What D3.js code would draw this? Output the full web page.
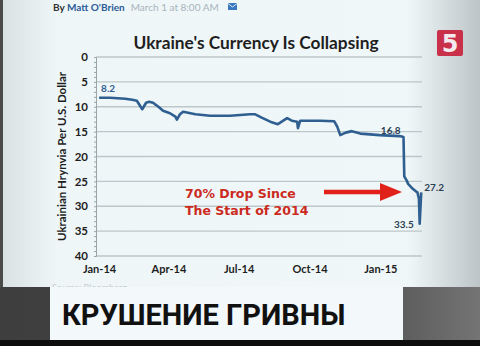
<!DOCTYPE html>
<html>
<head>
<meta charset="utf-8">
<script src="https://cdn.jsdelivr.net/npm/d3@7"></script>
<style>
  html, body { margin: 0; padding: 0; background: #000; }
  svg { display: block; }
</style>
</head>
<body>
<div id="chart"></div>
<script>
// hryvnia per US dollar
const dates = [
  '2014-01-01', '2014-01-15', '2014-02-04', '2014-02-13', '2014-02-19', '2014-02-26',
  '2014-03-03', '2014-03-07', '2014-03-12', '2014-03-19', '2014-03-25', '2014-04-03',
  '2014-04-10', '2014-04-12', '2014-04-16', '2014-04-20', '2014-05-06', '2014-05-25',
  '2014-06-20', '2014-07-16', '2014-07-22', '2014-07-31', '2014-08-11', '2014-08-21',
  '2014-08-28', '2014-09-02', '2014-09-08', '2014-09-15', '2014-09-16', '2014-09-19',
  '2014-09-25', '2014-10-15', '2014-11-02', '2014-11-06', '2014-11-10', '2014-11-17',
  '2014-11-25', '2014-12-06', '2014-12-31', '2015-01-26', '2015-01-31', '2015-02-01',
  '2015-02-04', '2015-02-06', '2015-02-09', '2015-02-12', '2015-02-16', '2015-02-18',
  '2015-02-20', '2015-02-21', '2015-02-23'
];
const rates = [
  8.2, 8.2, 8.4, 8.6, 8.8, 10.5,
  9.2, 9.0, 9.2, 10.0, 10.8, 11.3,
  12.0, 12.6, 11.5, 11.0, 11.5, 11.8,
  11.8, 11.5, 11.5, 12.2, 13.0, 13.5,
  12.8, 12.3, 12.8, 13.0, 14.3, 12.8,
  12.8, 12.8, 12.9, 14.0, 15.7, 15.2,
  14.9, 15.4, 15.7, 15.9, 16.1, 24.0,
  24.8, 25.5, 26.0, 26.5, 27.0, 27.2,
  28.5, 33.5, 27.2
];
const yTicks = [0, 5, 10, 15, 20, 25, 30, 35, 40];
const callouts = [
  { date: '2014-01-01', value: 8.2, label: '8.2' },
  { date: '2015-01-26', value: 16.8, label: '16.8' },
  { date: '2015-02-23', value: 27.2, label: '27.2' },
  { date: '2015-02-21', value: 33.5, label: '33.5' }
];

const parse = d3.timeParse('%Y-%m-%d');
const data = dates.map((d, i) => ({ date: parse(d), value: rates[i] }));

const width = 480, height = 346;

const svg = d3.select('#chart')
  .append('svg')
  .attr('width', width)
  .attr('height', height);

const defs = svg.append('defs');
const bg = defs.append('linearGradient').attr('id', 'bg');
bg.append('stop').attr('offset', '0%').attr('stop-color', '#d9e0e2');
bg.append('stop').attr('offset', '12%').attr('stop-color', '#eef6f7');
bg.append('stop').attr('offset', '85%').attr('stop-color', '#eff7f8');
bg.append('stop').attr('offset', '100%').attr('stop-color', '#bcc4c7');

const band = defs.append('linearGradient').attr('id', 'band');
band.append('stop').attr('offset', '0%').attr('stop-color', '#3e3e3e');
band.append('stop').attr('offset', '70%').attr('stop-color', '#4a4a4a');
band.append('stop').attr('offset', '100%').attr('stop-color', '#747474');

svg.append('rect').attr('width', width).attr('height', height).attr('fill', 'url(#bg)');
svg.append('rect').attr('width', 3).attr('height', height).attr('fill', '#4a4a4a');

// byline
const by = svg.append('text')
  .attr('x', 53).attr('y', 11)
  .attr('font-family', 'Lato, sans-serif')
  .attr('font-size', 10)
  .attr('font-weight', 700);
by.append('tspan').attr('fill', '#333').text('By ');
by.append('tspan').attr('fill', '#2c5c9a').text("Matt O'Brien");
by.append('tspan').attr('fill', '#a9b4bc').attr('font-weight', 400).attr('dx', 6).text('March 1 at 8:00 AM');
svg.append('rect').attr('x', 228).attr('y', 3).attr('width', 9).attr('height', 7).attr('fill', '#3a78c0');
svg.append('path').attr('d', 'M228,3.5L232.5,7L237,3.5').attr('stroke', '#dde8f2').attr('fill', 'none').attr('stroke-width', 1);

// channel logo
svg.append('rect').attr('x', 437).attr('y', 30).attr('width', 26).attr('height', 26).attr('rx', 2).attr('fill', '#c9304a');
svg.append('text').attr('x', 450).attr('y', 52).attr('text-anchor', 'middle')
  .attr('font-family', 'DejaVu Sans, sans-serif').attr('font-weight', 700).attr('font-size', 24)
  .attr('fill', '#f4e9ec').text('5');

svg.append('text')
  .attr('x', 256).attr('y', 49)
  .attr('text-anchor', 'middle')
  .attr('font-family', 'Lato, sans-serif')
  .attr('font-size', 17.3)
  .attr('font-weight', 700)
  .attr('fill', '#1e1e1e')
  .text("Ukraine's Currency Is Collapsing");

const x = d3.scaleTime()
  .domain([parse('2013-12-28'), parse('2015-02-24')])
  .range([96, 422]);

const y = d3.scaleLinear()
  .domain([0, 40])
  .range([57, 256]);

// gridlines
svg.append('g')
  .selectAll('line')
  .data(yTicks)
  .join('line')
  .attr('x1', x.range()[0])
  .attr('x2', x.range()[1])
  .attr('y1', d => y(d))
  .attr('y2', d => y(d))
  .attr('stroke', '#bcc7c9')
  .attr('stroke-width', 1.3);

// y axis with minor ticks
const yAxis = svg.append('g')
  .attr('transform', `translate(${x.range()[0]},0)`)
  .call(d3.axisLeft(y).ticks(40).tickSize(2).tickFormat(''));
yAxis.selectAll('path, line').attr('stroke', '#9aa5a8');

svg.append('g')
  .selectAll('text')
  .data(yTicks)
  .join('text')
  .attr('x', 88)
  .attr('y', d => y(d))
  .attr('dy', '0.36em')
  .attr('text-anchor', 'end')
  .attr('font-family', 'Lato, sans-serif')
  .attr('font-size', 11.5)
  .attr('font-weight', 700)
  .attr('fill', '#1e1e1e')
  .text(d => d);

// x axis labels
const xAxis = svg.append('g')
  .attr('transform', 'translate(0,262)')
  .call(d3.axisBottom(x)
    .ticks(d3.timeMonth.every(3))
    .tickSize(0)
    .tickFormat(d3.timeFormat('%b-%y')));
xAxis.select('.domain').remove();
xAxis.selectAll('text')
  .attr('font-family', 'Lato, sans-serif')
  .attr('font-size', 11)
  .attr('font-weight', 700)
  .attr('fill', '#1e1e1e');

svg.append('text')
  .attr('transform', `translate(66,${(y(0) + y(40)) / 2}) rotate(-90)`)
  .attr('text-anchor', 'middle')
  .attr('font-family', 'Lato, sans-serif')
  .attr('font-size', 11.5)
  .attr('font-weight', 700)
  .attr('fill', '#1e1e1e')
  .text('Ukrainian Hrynvia Per U.S. Dollar');

const line = d3.line()
  .x(d => x(d.date))
  .y(d => y(d.value));

svg.append('path')
  .datum(data)
  .attr('d', line)
  .attr('fill', 'none')
  .attr('stroke', '#2f5f91')
  .attr('stroke-width', 2.6)
  .attr('stroke-linejoin', 'round');

// value labels
const offsets = {
  '8.2': [2, -6, 'start', '#2f5f91'],
  '16.8': [1, -7, 'end', '#2d3f55'],
  '27.2': [3, -1, 'start', '#2d3f55'],
  '33.5': [-6, 4, 'end', '#2d3f55']
};
svg.append('g')
  .selectAll('text')
  .data(callouts)
  .join('text')
  .attr('x', d => x(parse(d.date)) + offsets[d.label][0])
  .attr('y', d => y(d.value) + offsets[d.label][1])
  .attr('text-anchor', d => offsets[d.label][2])
  .attr('font-family', 'Lato, sans-serif')
  .attr('font-size', 10)
  .attr('font-weight', 700)
  .attr('fill', d => offsets[d.label][3])
  .text(d => d.label);

// annotation
const note = svg.append('text')
  .attr('font-family', 'DejaVu Sans, sans-serif')
  .attr('font-size', 12.5)
  .attr('font-weight', 700)
  .attr('fill', '#cc2a1e');
note.append('tspan').attr('x', 185).attr('y', 198).text('70% Drop Since');
note.append('tspan').attr('x', 185).attr('y', 215).text('The Start of 2014');

svg.append('line')
  .attr('x1', 324).attr('x2', 384)
  .attr('y1', 192).attr('y2', 192)
  .attr('stroke', '#e0221b').attr('stroke-width', 4.5);
svg.append('path')
  .attr('d', 'M380,183L402,192L380,201Z')
  .attr('fill', '#e0221b');

// source line, mostly hidden by the caption box
svg.append('text')
  .attr('x', 52).attr('y', 291)
  .attr('font-family', 'Lato, sans-serif')
  .attr('font-size', 9)
  .attr('fill', '#c6cdd0')
  .text('Source: Bloomberg');

// TV caption band
svg.append('rect').attr('x', 0).attr('y', 287).attr('width', width).attr('height', 54).attr('fill', 'url(#band)');
svg.append('rect').attr('x', 0).attr('y', 340).attr('width', width).attr('height', 6).attr('fill', '#0d0d0d');
svg.append('rect').attr('x', 50).attr('y', 287).attr('width', 353).attr('height', 53).attr('fill', '#f3f8fa');
svg.append('text')
  .attr('x', 62).attr('y', 325)
  .attr('font-family', 'Roboto, sans-serif')
  .attr('font-size', 29)
  .attr('font-weight', 700)
  .attr('fill', '#111')
  .text('КРУШЕНИЕ ГРИВНЫ');
</script>
</body>
</html>
